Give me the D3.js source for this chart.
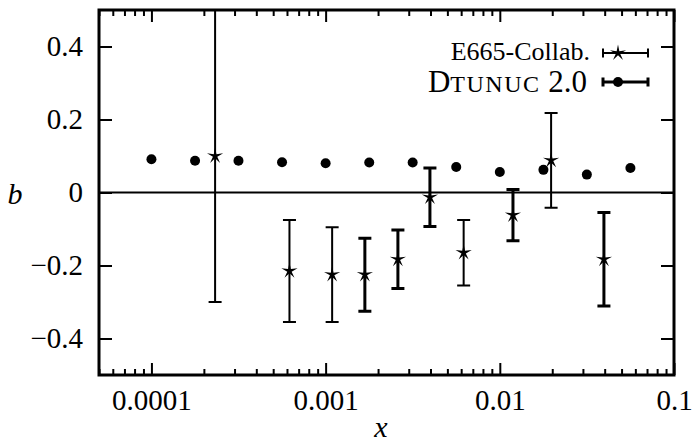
<!DOCTYPE html>
<meta charset="utf-8">
<style>
body { margin: 0; background: #fff; }
svg text { font-family: 'Times New Roman', 'Liberation Serif', 'DejaVu Serif', serif; fill: #000; }
.frame { fill: none; stroke: #000; stroke-width: 3px; }
.tick line { stroke: #000; stroke-width: 2px; }
.tick text { font-size: 29px; }
.domain { display: none; }
.zero { stroke: #000; stroke-width: 2px; }
.ebar { stroke: #000; fill: none; }
.lbl { font-style: italic; font-size: 30px; }
</style>
<body></body>
<script src="https://cdn.jsdelivr.net/npm/d3@7"></script>
<script>

// DTUNUC 2.0 points
var dtunucX = [1.0e-4, 1.78e-4, 3.16e-4, 5.62e-4, 1.0e-3, 1.78e-3, 3.16e-3, 5.62e-3, 1.0e-2, 1.78e-2, 3.16e-2, 5.62e-2];
var dtunucB = [0.091, 0.087, 0.087, 0.083, 0.080, 0.082, 0.082, 0.070, 0.056, 0.062, 0.049, 0.067];

// E665 data with errors (two data sets, drawn with different line weight)
var e665X = [2.32e-4, 6.2e-4, 1.09e-3, 1.68e-3, 2.6e-3, 3.97e-3, 6.2e-3, 1.19e-2, 1.97e-2, 3.96e-2];
var e665B = [0.10, -0.215, -0.225, -0.225, -0.183, -0.013, -0.165, -0.062, 0.088, -0.183];
var e665Err = [0.40, 0.14, 0.13, 0.10, 0.08, 0.08, 0.09, 0.07, 0.13, 0.128];
var e665Set = ["a", "a", "a", "b", "b", "b", "a", "b", "a", "b"];

var xTickValues = [0.0001, 0.001, 0.01, 0.1];
var xTickLabels = ["0.0001", "0.001", "0.01", "0.1"];
var yTickValues = [-0.4, -0.2, 0, 0.2, 0.4];
var yTickLabels = ["\u22120.4", "\u22120.2", "0", "0.2", "0.4"];

var margin = {top: 10, right: 19, bottom: 69, left: 99},
    width = 693 - margin.left - margin.right,
    height = 444 - margin.top - margin.bottom;

var root = d3.select("body").append("svg")
    .attr("width", 693)
    .attr("height", 444);

var svg = root.append("g")
    .attr("transform", "translate(" + margin.left + "," + margin.top + ")");

var x = d3.scaleLog().domain([5e-5, 0.1]).range([0, width]);
var y = d3.scaleLinear().domain([-0.5, 0.5]).range([height, 0]);

// minor ticks: everything the log scale offers that isn't a power of ten
var minorTicks = x.ticks().filter(function(d) {
    return Math.abs(Math.log10(d) - Math.round(Math.log10(d))) > 1e-6;
});

// bottom axis
svg.append("g")
    .attr("transform", "translate(0," + height + ")")
    .call(d3.axisBottom(x).tickValues(minorTicks).tickSize(-6).tickFormat(""));
var xb = svg.append("g")
    .attr("transform", "translate(0," + height + ")")
    .call(d3.axisBottom(x).tickValues(xTickValues).tickSize(-12)
        .tickFormat(function(d, i) { return xTickLabels[i]; }));
xb.selectAll("text").attr("y", 35).attr("dy", 0);

// top axis (mirror)
svg.append("g")
    .call(d3.axisTop(x).tickValues(minorTicks).tickSize(-6).tickFormat(""));
svg.append("g")
    .call(d3.axisTop(x).tickValues(xTickValues).tickSize(-12).tickFormat(""));

// left axis
svg.append("g")
    .call(d3.axisLeft(y).tickValues(yTickValues).tickSize(-13).tickPadding(16)
        .tickFormat(function(d, i) { return yTickLabels[i]; }));

// right axis (mirror)
svg.append("g")
    .attr("transform", "translate(" + width + ",0)")
    .call(d3.axisRight(y).tickValues(yTickValues).tickSize(-13).tickFormat(""));

svg.selectAll("g").attr("font-family", null);

// zero line
svg.append("line")
    .attr("class", "zero")
    .attr("x1", 0).attr("x2", width)
    .attr("y1", y(0)).attr("y2", y(0));

svg.append("clipPath").attr("id", "clip")
    .append("rect").attr("width", width).attr("height", height);

var plot = svg.append("g").attr("clip-path", "url(#clip)");

// DTUNUC dots
plot.selectAll(".dot")
    .data(dtunucX)
    .enter().append("circle")
    .attr("class", "dot")
    .attr("r", 5)
    .attr("cx", function(d) { return x(d); })
    .attr("cy", function(d, i) { return y(dtunucB[i]); });

// star shape
function starPath(r0, r1) {
    var pts = d3.range(10).map(function(i) {
        return [i * Math.PI / 5, i % 2 ? r1 : r0];
    });
    return d3.lineRadial().curve(d3.curveLinearClosed)(pts);
}

var cap = 6.5;
var e = plot.selectAll(".e665")
    .data(e665X)
    .enter().append("g")
    .attr("class", "e665");

e.append("path")
    .attr("class", "ebar")
    .style("stroke-width", function(d, i) { return e665Set[i] == "b" ? "3px" : "2px"; })
    .attr("d", function(d, i) {
        var px = x(d), lo = y(e665B[i] - e665Err[i]), hi = y(e665B[i] + e665Err[i]);
        return "M" + px + "," + lo + "V" + hi +
            "M" + (px - cap) + "," + lo + "H" + (px + cap) +
            "M" + (px - cap) + "," + hi + "H" + (px + cap);
    });

e.append("path")
    .attr("d", starPath(8.5, 2.3))
    .attr("transform", function(d, i) { return "translate(" + x(d) + "," + y(e665B[i]) + ")"; });

// frame
svg.append("rect")
    .attr("class", "frame")
    .attr("width", width)
    .attr("height", height);

// axis labels
root.append("text").attr("class", "lbl")
    .attr("x", 15).attr("y", 204)
    .attr("text-anchor", "middle")
    .text("b");
root.append("text").attr("class", "lbl")
    .attr("x", 381).attr("y", 437)
    .attr("text-anchor", "middle")
    .text("x");

// legend
var lg = root.append("g");
lg.append("text")
    .attr("x", 590).attr("y", 60)
    .attr("text-anchor", "end")
    .style("font-size", "26px")
    .text("E665-Collab.");
lg.append("path")
    .attr("class", "ebar")
    .style("stroke-width", "2px")
    .attr("d", "M603,53H648M603,48.5V57.5M648,48.5V57.5");
lg.append("path")
    .attr("d", starPath(8.5, 2.3))
    .attr("transform", "translate(618,53)");

var t2 = lg.append("text")
    .attr("x", 587).attr("y", 92)
    .attr("text-anchor", "end")
    .style("font-size", "31px");
t2.append("tspan").text("D");
t2.append("tspan").style("font-size", "24px").attr("letter-spacing", "1.5").text("TUNUC");
t2.append("tspan").text(" 2.0");
lg.append("path")
    .attr("class", "ebar")
    .style("stroke-width", "3px")
    .attr("d", "M603,82H648M603,77.5V86.5M648,77.5V86.5");
lg.append("circle")
    .attr("cx", 618).attr("cy", 82).attr("r", 5);

</script>
